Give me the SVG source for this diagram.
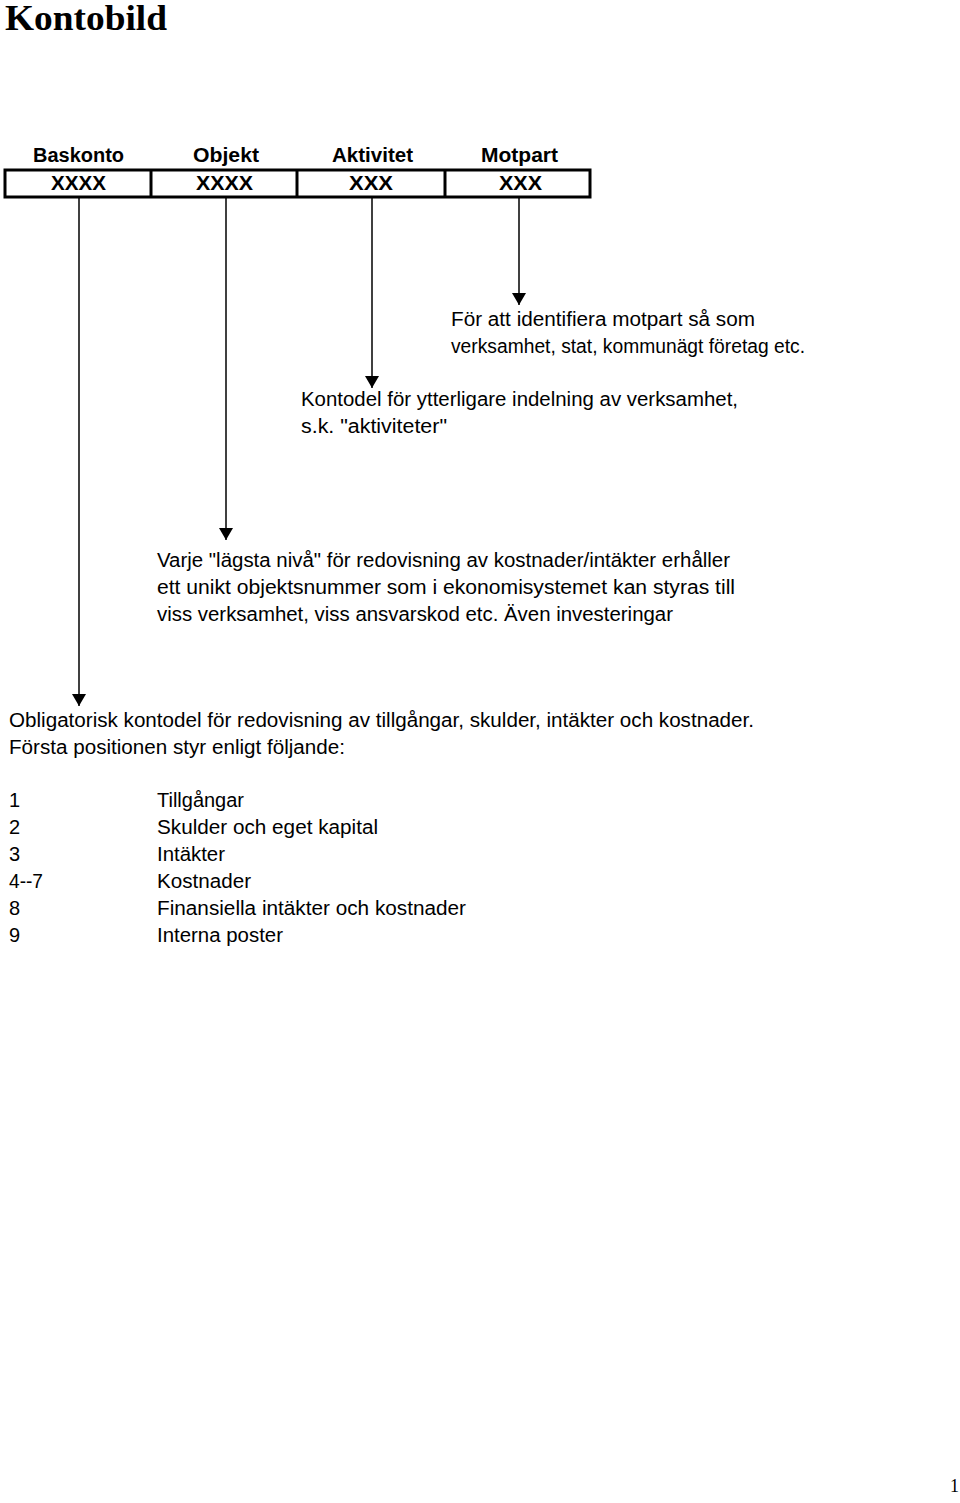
<svg xmlns="http://www.w3.org/2000/svg" width="960" height="1503" viewBox="0 0 960 1503">
<style>
.t{font-family:"Liberation Sans",Arial,sans-serif;font-size:20px;fill:#000}
.h{font-family:"Liberation Sans",Arial,sans-serif;font-size:20px;font-weight:bold;fill:#000}
.c{stroke:#000;stroke-width:1.5;fill:none}
</style>
<defs>
<marker id="arr" markerWidth="12" markerHeight="14" refX="12" refY="7" orient="auto" markerUnits="userSpaceOnUse" viewBox="0 0 12 14">
<path d="M0,0 L12,7 L0,14 Z" fill="#000"/>
</marker>
</defs>
<rect width="960" height="1503" fill="#fff"/>
<text x="5" y="30" font-family="Liberation Serif,serif" font-size="36" font-weight="bold" textLength="162" lengthAdjust="spacingAndGlyphs">Kontobild</text>
<g id="header">
<text class="h" x="33" y="162" textLength="91" lengthAdjust="spacingAndGlyphs">Baskonto</text>
<text class="h" x="193" y="162" textLength="66" lengthAdjust="spacingAndGlyphs">Objekt</text>
<text class="h" x="332" y="162" textLength="81" lengthAdjust="spacingAndGlyphs">Aktivitet</text>
<text class="h" x="481" y="162" textLength="77" lengthAdjust="spacingAndGlyphs">Motpart</text>
<rect x="5" y="170" width="585" height="27" fill="none" stroke="#000" stroke-width="3"/>
<line x1="151" y1="170" x2="151" y2="197" stroke="#000" stroke-width="3"/>
<line x1="297" y1="170" x2="297" y2="197" stroke="#000" stroke-width="3"/>
<line x1="445" y1="170" x2="445" y2="197" stroke="#000" stroke-width="3"/>
<text class="h" x="51" y="190" textLength="55" lengthAdjust="spacingAndGlyphs">XXXX</text>
<text class="h" x="196" y="190" textLength="57" lengthAdjust="spacingAndGlyphs">XXXX</text>
<text class="h" x="349" y="190" textLength="44" lengthAdjust="spacingAndGlyphs">XXX</text>
<text class="h" x="499" y="190" textLength="43" lengthAdjust="spacingAndGlyphs">XXX</text>
</g>
<g id="connectors">
<line class="c" x1="79" y1="198" x2="79" y2="706" marker-end="url(#arr)"/>
<line class="c" x1="226" y1="198" x2="226" y2="540" marker-end="url(#arr)"/>
<line class="c" x1="372" y1="198" x2="372" y2="388" marker-end="url(#arr)"/>
<line class="c" x1="519" y1="198" x2="519" y2="305" marker-end="url(#arr)"/>
</g>
<g id="motpart-text">
<text class="t" x="451" y="326" textLength="304" lengthAdjust="spacingAndGlyphs">För att identifiera motpart så som</text>
<text class="t" x="451" y="353" textLength="354" lengthAdjust="spacingAndGlyphs">verksamhet, stat, kommunägt företag etc.</text>
</g>
<g id="aktivitet-text">
<text class="t" x="301" y="406" textLength="437" lengthAdjust="spacingAndGlyphs">Kontodel för ytterligare indelning av verksamhet,</text>
<text class="t" x="301" y="433" textLength="146" lengthAdjust="spacingAndGlyphs">s.k. "aktiviteter"</text>
</g>
<g id="objekt-text">
<text class="t" x="157" y="567" textLength="573" lengthAdjust="spacingAndGlyphs">Varje "lägsta nivå" för redovisning av kostnader/intäkter erhåller</text>
<text class="t" x="157" y="594" textLength="578" lengthAdjust="spacingAndGlyphs">ett unikt objektsnummer som i ekonomisystemet kan styras till</text>
<text class="t" x="157" y="621" textLength="516" lengthAdjust="spacingAndGlyphs">viss verksamhet, viss ansvarskod etc. Även investeringar</text>
</g>
<g id="baskonto-text">
<text class="t" x="9" y="727" textLength="745" lengthAdjust="spacingAndGlyphs">Obligatorisk kontodel för redovisning av tillgångar, skulder, intäkter och kostnader.</text>
<text class="t" x="9" y="754" textLength="336" lengthAdjust="spacingAndGlyphs">Första positionen styr enligt följande:</text>
<text class="t" x="9" y="807">1</text><text class="t" x="157" y="807" textLength="87" lengthAdjust="spacingAndGlyphs">Tillgångar</text>
<text class="t" x="9" y="834">2</text><text class="t" x="157" y="834" textLength="221" lengthAdjust="spacingAndGlyphs">Skulder och eget kapital</text>
<text class="t" x="9" y="861">3</text><text class="t" x="157" y="861" textLength="68" lengthAdjust="spacingAndGlyphs">Intäkter</text>
<text class="t" x="9" y="888" textLength="34" lengthAdjust="spacingAndGlyphs">4--7</text><text class="t" x="157" y="888" textLength="94" lengthAdjust="spacingAndGlyphs">Kostnader</text>
<text class="t" x="9" y="915">8</text><text class="t" x="157" y="915" textLength="309" lengthAdjust="spacingAndGlyphs">Finansiella intäkter och kostnader</text>
<text class="t" x="9" y="942">9</text><text class="t" x="157" y="942" textLength="126" lengthAdjust="spacingAndGlyphs">Interna poster</text>
</g>
<text x="950" y="1492" font-family="Liberation Serif,serif" font-size="18">1</text>
</svg>
